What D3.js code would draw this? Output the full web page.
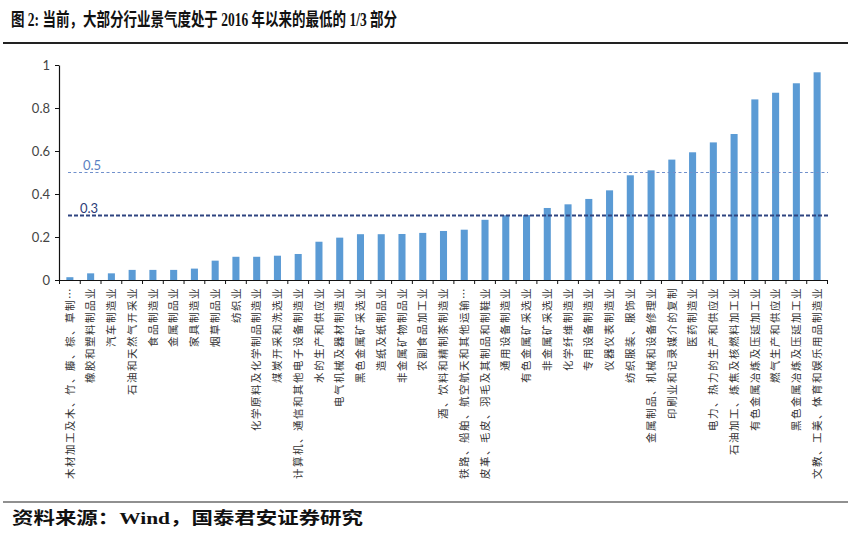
<!DOCTYPE html>
<html><head><meta charset="utf-8">
<script src="https://cdn.jsdelivr.net/npm/d3@7"></script>
<style>body{margin:0;background:#fff} svg{display:block}</style>
</head><body>
<script>
const titleText = "图 2: 当前，大部分行业景气度处于 2016 年以来的最低的 1/3 部分";
const sourceText = "资料来源：Wind，国泰君安证券研究";
const categories = [
  "木材加工及木、竹、藤、棕、草制品业","橡胶和塑料制品业","汽车制造业","石油和天然气开采业","食品制造业",
  "金属制品业","家具制造业","烟草制品业","纺织业","化学原料及化学制品制造业",
  "煤炭开采和洗选业","计算机、通信和其他电子设备制造业","水的生产和供应业","电气机械及器材制造业","黑色金属矿采选业",
  "造纸及纸制品业","非金属矿物制品业","农副食品加工业","酒、饮料和精制茶制造业","铁路、船舶、航空航天和其他运输设备制造业",
  "皮革、毛皮、羽毛及其制品和制鞋业","通用设备制造业","有色金属矿采选业","非金属矿采选业","化学纤维制造业",
  "专用设备制造业","仪器仪表制造业","纺织服装、服饰业","金属制品、机械和设备修理业","印刷业和记录媒介的复制",
  "医药制造业","电力、热力的生产和供应业","石油加工、炼焦及核燃料加工业","有色金属冶炼及压延加工业","燃气生产和供应业",
  "黑色金属冶炼及压延加工业","文教、工美、体育和娱乐用品制造业"
];
const values = [
  0.013,0.031,0.031,0.047,0.047,
  0.047,0.053,0.090,0.108,0.108,
  0.113,0.121,0.178,0.197,0.213,
  0.213,0.214,0.219,0.228,0.234,
  0.280,0.301,0.302,0.335,0.352,
  0.377,0.417,0.487,0.510,0.560,
  0.594,0.640,0.679,0.840,0.871,
  0.915,0.966
];
const yTicks = [0, 0.2, 0.4, 0.6, 0.8, 1];
const yTickLabels = ["0", "0.2", "0.4", "0.6", "0.8", "1"];
const refValues = [0.5, 0.3];
const refLabels = ["0.5", "0.3"];

const W = 848, H = 541;
const svg = d3.select("body").append("svg").attr("width", W).attr("height", H);

// title
svg.append("text").attr("x", 11).attr("y", 26)
  .attr("font-family", "'Liberation Serif','Noto Sans CJK SC',serif")
  .attr("font-weight", 700).attr("font-size", 18).attr("fill", "#111")
  .attr("textLength", 386).attr("lengthAdjust", "spacingAndGlyphs")
  .text(titleText);
svg.append("line").attr("x1", 3).attr("x2", 848).attr("y1", 43).attr("y2", 43)
  .attr("stroke", "#222").attr("stroke-width", 2);

// scales
const x = d3.scaleBand().domain(categories).range([59.5, 827.5]).paddingInner(0.66).paddingOuter(0.33);
const y = d3.scaleLinear().domain([0, 1]).range([280, 65]);

// bars
svg.append("g").selectAll("rect").data(values).join("rect")
  .attr("x", (d, i) => x(categories[i]))
  .attr("width", x.bandwidth())
  .attr("y", d => y(d))
  .attr("height", d => y(0) - y(d))
  .attr("fill", "#5b9bd5");

// reference lines
const refStyle = [
  {color: "#7090cc", width: 1, dash: "3,2.5", labelColor: "#5a7fc2", lx: 83},
  {color: "#2e4480", width: 2, dash: "4,2", labelColor: "#2c3d78", lx: 80}
];
refValues.forEach((v, i) => {
  const s = refStyle[i];
  svg.append("line").attr("x1", 68).attr("x2", 828).attr("y1", y(v)).attr("y2", y(v))
    .attr("stroke", s.color).attr("stroke-width", s.width).attr("stroke-dasharray", s.dash);
  svg.append("text").attr("x", s.lx).attr("y", y(v) - 3)
    .attr("font-family", "Lato,'Open Sans',sans-serif").attr("font-size", 13)
    .attr("fill", s.labelColor).text(refLabels[i]);
});

// y axis
const yAxis = svg.append("g").attr("transform", "translate(59,0)")
  .call(d3.axisLeft(y).tickValues(yTicks).tickSize(4).tickSizeOuter(0)
    .tickFormat((d, i) => yTickLabels[i]));
yAxis.select(".domain").attr("stroke", "#111").attr("stroke-width", 1.2);
yAxis.selectAll(".tick line").attr("stroke", "#111");
yAxis.selectAll("text").attr("font-family", "Lato,'Open Sans',sans-serif")
  .attr("font-size", 13).attr("fill", "#444").attr("x", -9);

// x axis
const xAxis = svg.append("g").attr("transform", "translate(0,280)")
  .call(d3.axisBottom(x).tickSize(0).tickSizeOuter(0)
    .tickFormat(d => d.length > 16 ? d.slice(0, 15) + "…" : d));
xAxis.select(".domain").attr("stroke", "#111").attr("stroke-width", 1.2);
xAxis.selectAll("text")
  .attr("font-family", "'Noto Sans CJK SC',sans-serif").attr("font-size", 10.5)
  .attr("letter-spacing", 1.5).attr("fill", "#333")
  .attr("text-anchor", "end")
  .attr("transform", "translate(0,7) rotate(-90)")
  .attr("x", 0).attr("y", 0).attr("dy", "0.35em");
// boundary ticks
const bounds = d3.range(categories.length + 1).map(i => x.range()[0] + i * x.step());
svg.append("g").selectAll("line").data(bounds).join("line")
  .attr("x1", d => d).attr("x2", d => d).attr("y1", 280).attr("y2", 284)
  .attr("stroke", "#111").attr("stroke-width", 1);

// source
svg.append("line").attr("x1", 3).attr("x2", 848).attr("y1", 502).attr("y2", 502)
  .attr("stroke", "#222").attr("stroke-width", 1.2);
svg.append("text").attr("x", 12).attr("y", 524)
  .attr("font-family", "'Liberation Serif','Noto Sans CJK SC',serif")
  .attr("font-weight", 700).attr("font-size", 17).attr("fill", "#111")
  .attr("textLength", 351).attr("lengthAdjust", "spacingAndGlyphs")
  .text(sourceText);
</script>
</body></html>
